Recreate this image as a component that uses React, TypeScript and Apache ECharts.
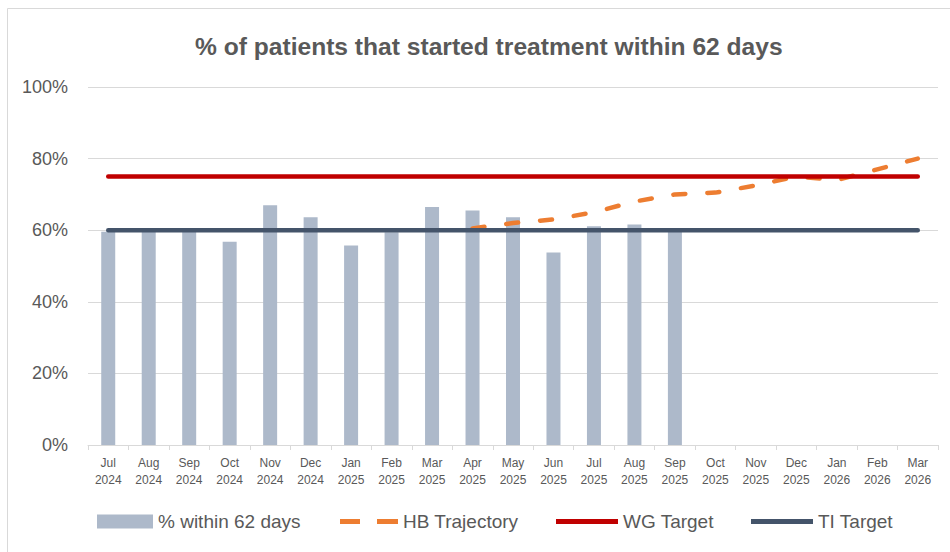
import React, { useEffect, useRef } from "react";
import * as echarts from "echarts";

const categories = [
  "Jul\n2024", "Aug\n2024", "Sep\n2024", "Oct\n2024", "Nov\n2024", "Dec\n2024",
  "Jan\n2025", "Feb\n2025", "Mar\n2025", "Apr\n2025", "May\n2025", "Jun\n2025",
  "Jul\n2025", "Aug\n2025", "Sep\n2025", "Oct\n2025", "Nov\n2025", "Dec\n2025",
  "Jan\n2026", "Feb\n2026", "Mar\n2026",
];

const pctWithin62 = [
  59.6, 59.5, 59.5, 56.8, 67.0, 63.6, 55.7, 59.4, 66.5, 65.5, 63.6, 53.8,
  61.1, 61.6, 59.6, null, null, null, null, null, null,
];

const hbTrajectory = [
  null, null, null, null, null, null, null, null, null, 60.5, 62, 63,
  65, 68, 70, 70.5, 72.5, 75, 74, 77, 80,
];

const wgTarget = [
  75, 75, 75, 75, 75, 75, 75, 75, 75, 75, 75, 75, 75, 75, 75, 75, 75, 75, 75, 75, 75,
];

const tiTarget = [
  60, 60, 60, 60, 60, 60, 60, 60, 60, 60, 60, 60, 60, 60, 60, 60, 60, 60, 60, 60, 60,
];

const titleText = "% of patients that started treatment within 62 days";
const seriesNames = ["% within 62 days", "HB Trajectory", "WG Target", "TI Target"];

const FONT = "'Liberation Sans', Arial, sans-serif";
const TEXT = "#595959";
const GRID = "#d9d9d9";

const legendTextStyle = { fontFamily: FONT, fontSize: 19, color: TEXT };
const LEGEND_TOP = 507;

export default function App() {
  const ref = useRef<HTMLDivElement>(null);

  useEffect(() => {
    if (!ref.current) return;
    const chart = echarts.init(ref.current, undefined, { renderer: "svg" });
    chart.setOption({
      animation: false,
      backgroundColor: "#ffffff",
      textStyle: { fontFamily: FONT },
      title: {
        text: titleText,
        left: 190,
        top: 29,
        textStyle: { fontFamily: FONT, fontSize: 24.6, fontWeight: "bold", color: TEXT },
      },
      graphic: [
        {
          type: "rect",
          shape: { x: 7.5, y: 8.5, width: 1000, height: 1000 },
          style: { fill: "none", stroke: GRID, lineWidth: 1 },
          silent: true,
        },
      ],
      grid: { left: 88, right: 12, top: 87, bottom: 107, containLabel: false },
      legend: [
        {
          data: [{ name: seriesNames[0], icon: "rect" }],
          left: 92,
          top: LEGEND_TOP,
          itemWidth: 56,
          itemHeight: 14,
          textStyle: legendTextStyle,
        },
        {
          data: [{ name: seriesNames[1], icon: "path://M0,0 H20 V5 H0 Z M37,0 H58 V5 H37 Z" }],
          left: 335,
          top: LEGEND_TOP,
          itemWidth: 58,
          itemHeight: 14,
          textStyle: legendTextStyle,
        },
        {
          data: [{ name: seriesNames[2], icon: "path://M0,0 H62 V5 H0 Z" }],
          left: 551,
          top: LEGEND_TOP,
          itemWidth: 62,
          itemHeight: 14,
          textStyle: legendTextStyle,
        },
        {
          data: [{ name: seriesNames[3], icon: "path://M0,0 H62 V5 H0 Z" }],
          left: 746,
          top: LEGEND_TOP,
          itemWidth: 62,
          itemHeight: 14,
          textStyle: legendTextStyle,
        },
      ],
      xAxis: {
        type: "category",
        data: categories,
        boundaryGap: true,
        axisLine: { lineStyle: { color: GRID, width: 1 } },
        axisTick: { show: true, length: 5, lineStyle: { color: GRID } },
        axisLabel: {
          interval: 0,
          color: TEXT,
          fontFamily: FONT,
          fontSize: 12,
          lineHeight: 17,
          margin: 9,
        },
      },
      yAxis: {
        type: "value",
        min: 0,
        max: 100,
        interval: 20,
        axisLine: { show: false },
        axisTick: { show: false },
        splitLine: { lineStyle: { color: GRID, width: 1 } },
        axisLabel: {
          formatter: "{value}%",
          color: TEXT,
          fontFamily: FONT,
          fontSize: 18,
          margin: 20,
        },
      },
      series: [
        {
          name: seriesNames[0],
          type: "bar",
          data: pctWithin62,
          barWidth: 14,
          itemStyle: { color: "#adb9ca" },
          z: 1,
        },
        {
          name: seriesNames[1],
          type: "line",
          data: hbTrajectory,
          showSymbol: false,
          symbol: "none",
          lineStyle: { color: "#ed7d31", width: 4.5, type: [12, 22], cap: "round" },
          itemStyle: { color: "#ed7d31" },
          z: 3,
        },
        {
          name: seriesNames[2],
          type: "line",
          data: wgTarget,
          showSymbol: false,
          symbol: "none",
          lineStyle: { color: "#c00000", width: 4.5, cap: "round" },
          itemStyle: { color: "#c00000" },
          z: 4,
        },
        {
          name: seriesNames[3],
          type: "line",
          data: tiTarget,
          showSymbol: false,
          symbol: "none",
          lineStyle: { color: "#44546a", width: 4.5, cap: "round" },
          itemStyle: { color: "#44546a" },
          z: 4,
        },
      ],
    });
    return () => chart.dispose();
  }, []);

  return (
    <div
      ref={ref}
      style={{ position: "fixed", left: 0, top: 0, width: 950, height: 552 }}
    />
  );
}
